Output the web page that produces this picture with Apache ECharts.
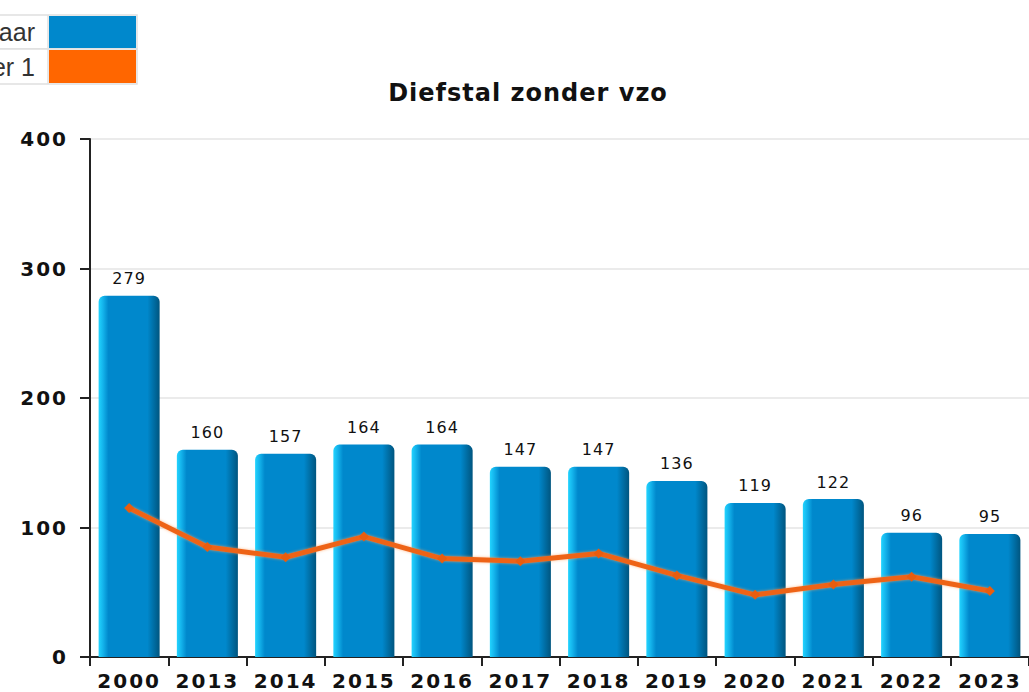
<!DOCTYPE html>
<html>
<head>
<meta charset="utf-8">
<title>Diefstal zonder vzo</title>
<script src="https://cdn.jsdelivr.net/npm/echarts@6/dist/echarts.min.js"></script>
<style>
*{margin:0} body{background:#fff}
/* the original chart draws its labels with wide letter spacing */
#main text{letter-spacing:2px}
#main text[style*="16px"]{letter-spacing:1px}
#main text[style*="24px"]{letter-spacing:1px}
#main text[style*="Liberation"]{letter-spacing:0}
</style>
</head>
<body>
<div id="main" style="width:1029px;height:692px;"></div>
<script>
var jaren = ['2000','2013','2014','2015','2016','2017','2018','2019','2020','2021','2022','2023'];
var perJaar = [279,160,157,164,164,147,147,136,119,122,96,95];
var per1 = [115,85,77,93,76,74,80,63,48,56,62,51];
var yTicks = [0,100,200,300,400];

var chart = echarts.init(document.getElementById('main'), null, {renderer:'svg'});
var barColor = new echarts.graphic.LinearGradient(0,0,1,0,[
    {offset:0, color:'#22d4ff'},
    {offset:0.07, color:'#14b4ec'},
    {offset:0.16, color:'#0088cc'},
    {offset:0.8, color:'#0088cc'},
    {offset:1, color:'#00557f'}
]);

chart.setOption({
    animation: false,
    title: {
        text: 'Diefstal zonder vzo',
        left: 523, top: 76, textAlign: 'center',
        textStyle: {fontFamily:'DejaVu Sans', fontSize:24, fontWeight:'bold', color:'#111'}
    },
    grid: {left:90, right:0, top:139, bottom:35},
    xAxis: {
        type:'category', data: jaren,
        axisLine:{lineStyle:{color:'#222', width:2}},
        axisTick:{show:true, length:9, lineStyle:{color:'#222', width:2}},
        axisLabel:{fontFamily:'DejaVu Sans', fontWeight:'bold', fontSize:20, color:'#111', margin:14}
    },
    yAxis: {
        type:'value', min:yTicks[0], max:yTicks[yTicks.length-1], interval:100,
        axisLine:{show:true, lineStyle:{color:'#222', width:2}},
        axisTick:{show:true, length:10, lineStyle:{color:'#222', width:2}},
        splitLine:{lineStyle:{color:'#e4e4e4', width:1.5}},
        axisLabel:{fontFamily:'DejaVu Sans', fontWeight:'bold', fontSize:20, color:'#111', margin:22}
    },
    series: [{
        name:'Aantal per jaar', type:'bar', data: perJaar,
        barCategoryGap:'22%',
        itemStyle:{color: barColor, borderRadius:[6,6,0,0]},
        label:{show:true, position:'top', distance:9, fontFamily:'DejaVu Sans', fontSize:16, color:'#111'}
    },{
        name:'Gemiddelde per 1', type:'line', data: per1,
        symbol:'diamond', symbolSize:10,
        itemStyle:{color:'#e85d0f'},
        lineStyle:{color:'#ee6416', width:5, shadowColor:'rgba(255,160,90,0.7)', shadowBlur:3},
        z:5
    }],
    graphic: [
        {type:'rect', shape:{x:-5, y:15, width:142, height:34}, style:{fill:'#fff', stroke:'#e0e0e0', lineWidth:1.5}},
        {type:'rect', shape:{x:-5, y:49, width:142, height:35}, style:{fill:'#fff', stroke:'#e0e0e0', lineWidth:1.5}},
        {type:'rect', shape:{x:49, y:16, width:87, height:32}, style:{fill:'#0088cc'}},
        {type:'rect', shape:{x:49, y:50, width:87, height:33}, style:{fill:'#ff6600'}},
        {type:'line', shape:{x1:48, y1:15, x2:48, y2:84}, style:{stroke:'#e0e0e0', lineWidth:1.5}},
        {type:'text', style:{text:'Aantal per jaar', x:35, y:32, align:'right', verticalAlign:'middle', font:'25px "Liberation Sans"', fill:'#333'}},
        {type:'text', style:{text:'Gemiddelde per 1', x:35, y:67, align:'right', verticalAlign:'middle', font:'25px "Liberation Sans"', fill:'#333'}}
    ]
});
</script>
</body>
</html>
